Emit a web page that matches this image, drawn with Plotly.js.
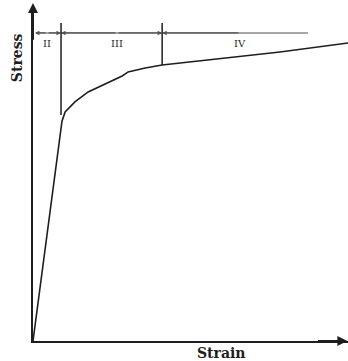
<!DOCTYPE html>
<html>
<head>
<meta charset="utf-8">
<script src="https://cdn.plot.ly/plotly-3.0.1.min.js"></script>
<style>
  html, body { margin: 0; padding: 0; background: #fff; }
  #chart { width: 348px; height: 361px; }
</style>
</head>
<body>
<div id="chart"></div>
<script>
// Stress–strain curve (normalised units, 0–100 on both axes)
const strain = [0, 9.2, 10.2, 13.3, 17.5, 22.9, 28.3, 30.2, 35.6, 41.0, 78.4, 100];
const stress = [0, 66.0, 68.8, 71.8, 74.8, 77.2, 79.6, 80.8, 82.0, 82.9, 86.8, 89.5];

// Stage boundaries (strain) and the stress level where each boundary line meets the curve
const boundaryStrain = [8.9, 41.0];
const boundaryBottom = [67.9, 82.9];
const boundaryTop = 95.5;

// Dimension line above the curve and the stage labels under it
const dimLevel = 92.5;
const dimStart = 1.0;
const dimEnd = 87.3;
const stageLabels = ['II', 'III', 'IV'];
const stageLabelX = [4.5, 26.7, 65.7];
const stageLabelY = 89.3;

const ink = '#1e1e1e';
const serif = '"DejaVu Serif", "Liberation Serif", serif';

const traces = [
  {
    x: strain, y: stress, mode: 'lines', type: 'scatter',
    line: { color: ink, width: 1.6 }, hoverinfo: 'skip', cliponaxis: false
  },
  {
    x: [dimStart, dimEnd], y: [dimLevel, dimLevel], mode: 'lines', type: 'scatter',
    line: { color: '#8a8a8a', width: 1.6 }, hoverinfo: 'skip'
  }
];
boundaryStrain.forEach((bx, i) => {
  traces.push({
    x: [bx, bx], y: [boundaryBottom[i], boundaryTop], mode: 'lines', type: 'scatter',
    line: { color: ink, width: 1.5 }, hoverinfo: 'skip'
  });
});

const annotations = [];
// arrowheads on the dimension line pointing toward each boundary
const arrowPairs = [
  [4.5, 0.6], [4.5, boundaryStrain[0]],
  [26.7, boundaryStrain[0]], [26.7, boundaryStrain[1]],
  [65.7, boundaryStrain[1]]
];
arrowPairs.forEach(([from, to]) => {
  annotations.push({
    x: to, y: dimLevel, ax: from, ay: dimLevel, axref: 'x', ayref: 'y',
    xref: 'x', yref: 'y', text: '', showarrow: true,
    arrowhead: 2, arrowsize: 0.7, arrowwidth: 1.3, arrowcolor: '#555',
    standoff: 0, startstandoff: 0
  });
});
stageLabels.forEach((t, i) => {
  annotations.push({
    x: stageLabelX[i], y: stageLabelY, xref: 'x', yref: 'y', text: t,
    showarrow: false, font: { family: serif, size: 10, color: '#2a2a2a' }
  });
});
// axis arrowheads
annotations.push({
  x: 0, y: 101.5, ax: 0, ay: 90, axref: 'x', ayref: 'y', xref: 'x', yref: 'y',
  text: '', showarrow: true, arrowhead: 2, arrowsize: 1, arrowwidth: 2,
  arrowcolor: ink, standoff: 0
});
annotations.push({
  x: 99.8, y: 0, ax: 90, ay: 0, axref: 'x', ayref: 'y', xref: 'x', yref: 'y',
  text: '', showarrow: true, arrowhead: 2, arrowsize: 1, arrowwidth: 2,
  arrowcolor: ink, standoff: 0
});
// axis titles (placed in paper space, outside the plot area)
annotations.push({
  x: -0.05, y: 0.85, xref: 'paper', yref: 'paper', xanchor: 'center', yanchor: 'middle',
  text: '<b>Stress</b>', textangle: -90,
  showarrow: false, font: { family: serif, size: 14, color: ink }
});
annotations.push({
  x: 0.597, y: -0.035, xref: 'paper', yref: 'paper', xanchor: 'center', yanchor: 'middle',
  text: '<b>Strain</b>',
  showarrow: false, font: { family: serif, size: 14, color: ink }
});

const layout = {
  width: 348, height: 361,
  margin: { l: 33, r: 0, t: 8, b: 20 },
  paper_bgcolor: '#fff', plot_bgcolor: '#fff',
  showlegend: false,
  xaxis: {
    range: [0, 100], showgrid: false, zeroline: false, showticklabels: false,
    ticks: '', showline: true, linecolor: ink, linewidth: 2, fixedrange: true
  },
  yaxis: {
    range: [0, 100], showgrid: false, zeroline: false, showticklabels: false,
    ticks: '', showline: true, linecolor: ink, linewidth: 2, fixedrange: true
  },
  annotations: annotations
};

Plotly.newPlot('chart', traces, layout, { staticPlot: true, displayModeBar: false });
</script>
</body>
</html>
